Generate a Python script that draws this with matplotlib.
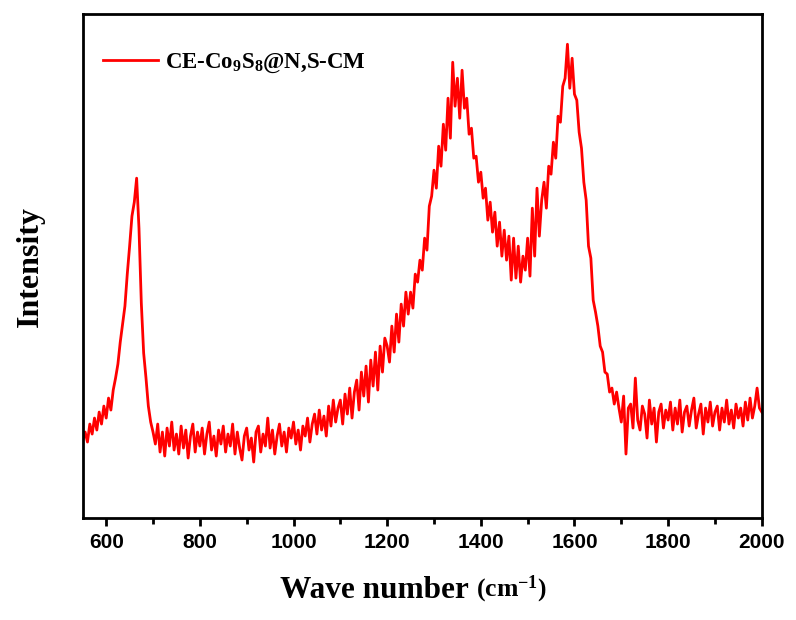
import numpy as np
import matplotlib
matplotlib.use('Agg')
import matplotlib.pyplot as plt
from matplotlib.ticker import MultipleLocator

# Raman spectrum, every 5 cm-1 (arbitrary intensity units)
wave_start = 550
wave_end = 2000
wave_step = 5

intensity = [
    78, 86, 76, 94, 84, 100, 88, 106, 94, 112,         # 550-595
    100, 120, 108, 128, 140, 154, 176, 194, 212, 244,  # 600-645
    272, 302, 316, 340, 290, 215, 165, 140, 112, 96,   # 650-695
    86, 74, 94, 66, 86, 62, 90, 72, 96, 68,            # 700-745
    84, 64, 92, 70, 88, 60, 82, 94, 66, 86,            # 750-795
    72, 90, 64, 84, 96, 68, 82, 62, 88, 74,            # 800-845
    92, 66, 84, 72, 94, 64, 86, 70, 58, 82,            # 850-895
    90, 68, 80, 56, 86, 92, 66, 84, 72, 100,           # 900-945
    70, 88, 64, 82, 94, 72, 86, 66, 90, 80,            # 950-995
    96, 74, 88, 68, 92, 82, 100, 76, 94, 104,          # 1000-1045
    84, 108, 88, 102, 82, 112, 92, 118, 96, 110,       # 1050-1095
    118, 94, 124, 104, 130, 100, 126, 138, 108, 146,   # 1100-1145
    122, 152, 116, 158, 132, 166, 128, 172, 146, 180,  # 1150-1195
    172, 156, 192, 166, 204, 176, 214, 192, 226, 204,  # 1200-1245
    226, 210, 244, 236, 258, 248, 280, 268, 312, 322,  # 1250-1295
    348, 330, 372, 352, 394, 368, 420, 380, 456, 412,  # 1300-1345
    440, 400, 448, 410, 420, 384, 390, 360, 362, 336,  # 1350-1395
    346, 320, 330, 298, 316, 286, 306, 272, 296, 262,  # 1400-1445
    288, 258, 282, 238, 280, 240, 272, 236, 262, 248,  # 1450-1495
    280, 242, 310, 262, 330, 282, 318, 336, 310, 352,  # 1500-1545
    344, 376, 360, 402, 396, 432, 440, 474, 430, 460,  # 1550-1595
    424, 418, 386, 370, 336, 318, 272, 260, 218, 206,  # 1600-1645
    192, 172, 166, 146, 144, 126, 130, 114, 126, 110,  # 1650-1695
    96, 122, 64, 110, 114, 90, 140, 98, 88, 112,       # 1700-1745
    104, 80, 118, 94, 110, 76, 106, 114, 90, 108,      # 1750-1795
    98, 116, 88, 110, 94, 118, 86, 106, 112, 92,       # 1800-1845
    108, 120, 90, 104, 114, 84, 110, 96, 116, 92,      # 1850-1895
    106, 112, 88, 110, 96, 118, 94, 108, 90, 114,      # 1900-1945
    100, 110, 92, 116, 98, 120, 100, 112, 130, 110,    # 1950-1995
    106,                                               # 2000
]
wave = np.arange(wave_start, wave_end + 1, wave_step)

sample_label = 'CE-Co$_9$S$_8$@N,S-CM'

plt.rcParams['mathtext.fontset'] = 'custom'
plt.rcParams['mathtext.rm'] = 'Liberation Serif:bold'
plt.rcParams['mathtext.it'] = 'Liberation Serif:bold'
plt.rcParams['mathtext.bf'] = 'Liberation Serif:bold'

fig = plt.figure(figsize=(7.96, 6.2), dpi=100)
ax = fig.add_axes([0.104, 0.1645, 0.853, 0.8125])

ax.plot(wave, intensity, color='#ff0000', lw=2.0, label=sample_label)

ax.set_xlim(550, 2000)
ax.set_ylim(0, 504)
ax.xaxis.set_major_locator(MultipleLocator(200))
ax.xaxis.set_minor_locator(MultipleLocator(100))
ax.set_yticks([])
ax.tick_params(axis='x', which='major', direction='out', length=6, width=2,
               labelsize=15, pad=5)
ax.tick_params(axis='x', which='minor', direction='out', length=4, width=2)
for lbl in ax.get_xticklabels():
    lbl.set_fontfamily('Liberation Sans')
    lbl.set_fontweight('bold')
for s in ax.spines.values():
    s.set_linewidth(2)

# x label: big "Wave number" and a smaller unit part after it
xl = fig.text(0.352, 0.035, 'Wave number ', fontsize=22.5, fontfamily='Liberation Serif',
              fontweight='bold', ha='left', va='baseline')
ax.annotate('(cm$^{-1}$)', xy=(1, 0), xycoords=xl, va='bottom', ha='left',
            fontsize=18.5, fontfamily='Liberation Serif', fontweight='bold')

ax.set_ylabel('Intensity', fontsize=23, fontfamily='Liberation Serif',
              fontweight='bold', labelpad=27)

leg = ax.legend(loc='upper left', bbox_to_anchor=(0.03, 0.925), frameon=False,
                handlelength=2.4, handletextpad=0.3, borderaxespad=0, borderpad=0,
                prop={'family': 'Liberation Serif', 'weight': 'bold', 'size': 16.5})
for h in leg.get_lines():
    h.set_linewidth(2)

fig.savefig('out.png', dpi=100)
